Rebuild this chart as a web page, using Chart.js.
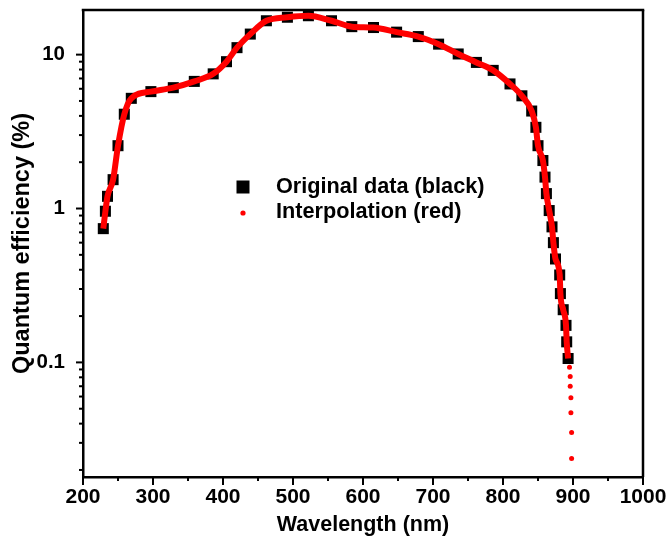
<!DOCTYPE html>
<html>
<head>
<meta charset="utf-8">
<script src="https://cdn.jsdelivr.net/npm/chart.js@4.4.1/dist/chart.umd.min.js"></script>
<style>
html,body{margin:0;padding:0;background:#fff}
#wrap{width:669px;height:552px}
</style>
</head>
<body>
<div id="wrap"><canvas id="c"></canvas></div>
<script>

/* ===== DATA ===== */

const wavelength = [229,232,235,243,250,259,269,297,329,359,386,405,420,439,462,492,522,555,584,615,648,679,708,736,762,786,810,827,841,847,850,857,860,862,866,870,872,875,881,882,886,890,891,893]
const efficiency = [0.74,0.96,1.2,1.54,2.56,4.1,5.2,5.75,6.1,6.7,7.5,9.0,11.1,13.6,16.6,17.5,17.9,16.6,15.2,15.0,14.0,13.1,11.7,10.1,8.9,7.9,6.45,5.4,4.3,3.37,2.56,2.05,1.6,1.25,0.97,0.76,0.60,0.47,0.37,0.28,0.22,0.174,0.136,0.106]

const tailWavelength = [895,896,896,897,897,898,898]
const tailEfficiency = [0.093,0.081,0.070,0.059,0.047,0.035,0.0237]

const xTicks = [200,300,400,500,600,700,800,900,1000]
const yTicks = [0.1,1,10]

const legendLabels = ["Original data (black)","Interpolation (red)"]
const xTitle = "Wavelength (nm)"
const yTitle = "Quantum efficiency (%)"

/* ===== STYLE ===== */

const FONT = "'Liberation Sans', Arial, sans-serif"
const RED = "#ff0000"

/* ===== TICK MARKS + FRAME ===== */

const frameTicks = {
id:"frameTicks",
afterDraw(chart){
const {ctx, chartArea:{left,right,top,bottom}, scales:{x,y}} = chart
ctx.save()
ctx.strokeStyle="#000"
ctx.lineWidth=2

const line=(x1,y1,x2,y2)=>{ctx.beginPath();ctx.moveTo(x1,y1);ctx.lineTo(x2,y2);ctx.stroke()}

// x major + minor
xTicks.forEach((v,i)=>{
const px=x.getPixelForValue(v)
line(px,bottom,px,bottom+8)
if(i<xTicks.length-1){
const m=x.getPixelForValue((v+xTicks[i+1])/2)
line(m,bottom,m,bottom+4)
}
})

// y major + minor (log decades)
for(let d=0.01; d<100; d*=10){
for(let k=1;k<10;k++){
const v=+(k*d).toPrecision(3)
if(v<y.min||v>y.max) continue
const py=y.getPixelForValue(v)
line(left,py,left-(k===1?7:4),py)
}
}

// top + right frame
ctx.lineWidth=2.5
line(left-1.25,top,right+1.25,top)
line(right,top,right,bottom)
ctx.restore()
}
}

/* ===== LEGEND INSIDE ===== */

const insideLegend = {
id:"insideLegend",
afterDraw(chart){
const {ctx, chartArea:{left,top}} = chart
const lx=left+160, ly=top+177
ctx.save()
ctx.fillStyle="#000"
ctx.fillRect(lx-6.5,ly-6.5,13,13)
ctx.fillStyle=RED
ctx.beginPath()
ctx.arc(lx,ly+26,2.6,0,Math.PI*2)
ctx.fill()
ctx.fillStyle="#000"
ctx.font="bold 21.7px "+FONT
ctx.textBaseline="middle"
ctx.fillText(legendLabels[0],lx+33,ly)
ctx.fillText(legendLabels[1],lx+33,ly+25)
ctx.restore()
}
}

/* ===== CHART ===== */

const original = wavelength.map((w,i)=>({x:w,y:efficiency[i]}))
const tail = tailWavelength.map((w,i)=>({x:w,y:tailEfficiency[i]}))

new Chart(document.getElementById("c"),{
type:"line",
data:{
datasets:[
{
label:legendLabels[0],
data:original,
showLine:false,
pointStyle:"rect",
pointRadius:7.8,
pointBackgroundColor:"#000",
pointBorderWidth:0,
order:2
},
{
label:legendLabels[1],
data:original,
borderColor:RED,
borderWidth:6,
pointRadius:0,
cubicInterpolationMode:"monotone",
order:1
},
{
label:"tail",
data:tail,
showLine:false,
pointRadius:2.5,
pointBackgroundColor:RED,
pointBorderWidth:0,
order:0
}
]
},
options:{
responsive:true,
maintainAspectRatio:false,
animation:false,
layout:{padding:{top:10,right:26,left:0,bottom:0}},
plugins:{legend:{display:false},tooltip:{enabled:false}},
scales:{
x:{
type:"linear",
min:200,max:1000,
afterBuildTicks(s){s.ticks=xTicks.map(v=>({value:v}))},
afterFit(s){s.height=75;s.paddingLeft=0;s.paddingRight=0},
grid:{drawOnChartArea:false,drawTicks:false},
border:{color:"#000",width:2.5},
ticks:{color:"#000",padding:8,font:{family:FONT,size:21,weight:"bold"},maxRotation:0,callback:v=>String(v)},
title:{display:true,text:xTitle,color:"#000",font:{family:FONT,size:21.5,weight:"bold"},padding:{top:0,bottom:14}}
},
y:{
type:"logarithmic",
min:0.018,max:19.5,
afterBuildTicks(s){s.ticks=yTicks.map(v=>({value:v}))},
afterFit(s){s.width=83;s.paddingTop=0;s.paddingBottom=0},
grid:{drawOnChartArea:false,drawTicks:false},
border:{color:"#000",width:2.5},
ticks:{color:"#000",padding:18,font:{family:FONT,size:20.5,weight:"bold"},callback:v=>String(v)},
title:{display:true,text:yTitle,color:"#000",font:{family:FONT,size:23.5,weight:"bold"},padding:{top:8,bottom:0}}
}
}
},
plugins:[frameTicks,insideLegend]
})

</script>
</body>
</html>
